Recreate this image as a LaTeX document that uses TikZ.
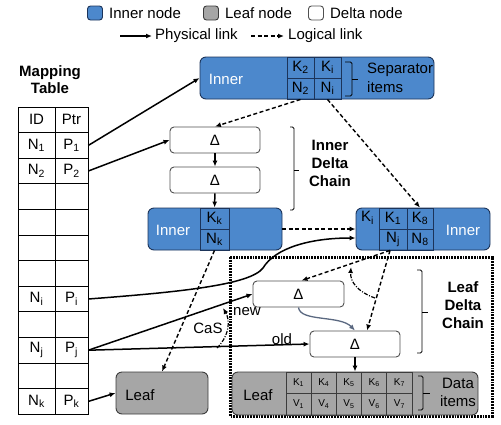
\documentclass[tikz,border=0pt]{standalone}
\usepackage{fontspec}
\setmainfont{Liberation Sans}
\usetikzlibrary{arrows.meta, positioning, calc}

\definecolor{innerblue}{RGB}{76,136,204}
\definecolor{innerline}{RGB}{28,52,90}
\definecolor{leafgray}{RGB}{166,166,166}
\definecolor{leafline}{RGB}{60,60,60}
\definecolor{deltaline}{RGB}{80,80,80}
\definecolor{slate}{RGB}{90,104,128}

\tikzset{
  innerbox/.style={draw=innerline, fill=innerblue, line width=0.9pt, rounded corners=6pt, minimum height=42pt, inner sep=0pt},
  leafbox/.style={draw=leafline, fill=leafgray, line width=0.9pt, rounded corners=6pt, minimum height=42pt, inner sep=0pt},
  deltabox/.style={draw=deltaline, fill=white, line width=0.9pt, rounded corners=4pt, minimum width=90pt, minimum height=26pt, inner sep=0pt},
  innercell/.style={draw=innerline, line width=0.9pt, minimum height=21pt, inner sep=0pt},
  leafcell/.style={draw=leafline, line width=0.7pt, minimum width=25.2pt, minimum height=21.5pt, inner sep=0pt, font=\fontsize{10}{12}\selectfont},
  tablecell/.style={draw=black, line width=0.7pt, minimum height=25.6pt, inner sep=0pt},
  txt/.style={inner sep=0pt},
  phys/.style={-{Latex[length=6pt,width=5pt]}, line width=1.5pt},
  logic/.style={-{Latex[length=6pt,width=5pt]}, line width=1.4pt, dash pattern=on 4pt off 2.5pt},
  dashdot/.style={-{Latex[length=6pt,width=5pt]}, line width=1.2pt, dash pattern=on 4pt off 1.5pt on 1pt off 1.5pt},
  bracket/.style={line width=0.9pt, rounded corners=1.5pt},
  chainbox/.style={line width=3pt, dash pattern=on 1.8pt off 1pt},
}

\begin{document}
\begin{tikzpicture}[x=1pt, y=-1pt, font=\fontsize{15}{18}\selectfont]
  \useasboundingbox (0,0) rectangle (501,424);

  % Legend
  \node[innerbox, minimum width=15pt, minimum height=14pt, rounded corners=3pt] (lginner) at (95,13) {};
  \node[txt, right=6pt of lginner] {Inner node};
  \node[leafbox, minimum width=15pt, minimum height=14pt, rounded corners=3pt] (lgleaf) at (211,13) {};
  \node[txt, right=6pt of lgleaf] {Leaf node};
  \node[deltabox, minimum width=15pt, minimum height=14pt, rounded corners=3pt] (lgdelta) at (316,13) {};
  \node[txt, right=6pt of lgdelta] {Delta node};
  \coordinate (physA) at (120,36);
  \coordinate (physB) at (152,36);
  \draw[phys] (physA) -- (physB);
  \node[txt, anchor=west] at (155,36) {Physical link};
  \coordinate (logicA) at (251,36);
  \coordinate (logicB) at (284,36);
  \draw[logic] (logicA) -- (logicB);
  \node[txt, anchor=west] at (288,36) {Logical link};

  % Mapping table
  \node[txt, align=center, font=\fontsize{15}{17}\selectfont\bfseries] (maptitle) at (50,80) {Mapping\\Table};
  \foreach \r/\a/\b in {0/ID/Ptr, 1/N\textsubscript{1}/P\textsubscript{1}, 2/N\textsubscript{2}/P\textsubscript{2},
      3//, 4//, 5//, 6//, 7/N\textsubscript{i}/P\textsubscript{i}, 8//,
      9/N\textsubscript{j}/P\textsubscript{j}, 10//, 11/N\textsubscript{k}/P\textsubscript{k}}
  {
    \node[tablecell, minimum width=37pt] (id\r) at (36.5,{107+25.6*(\r+0.5)}) {\a};
    \node[tablecell, minimum width=33pt] (ptr\r) at (71.5,{107+25.6*(\r+0.5)}) {\b};
  }

  % Leaf delta chain frame
  \draw[chainbox] (230,257) rectangle (492,416);

  % Top inner node
  \node[innerbox, minimum width=234pt] (top) at (317,78) {};
  \node[txt, text=white] at (226,79) {Inner};
  \node[innercell, minimum width=27pt] (topK2) at (300.5,67.5) {K\textsubscript{2}};
  \node[innercell, minimum width=27pt] (topKi) at (327.5,67.5) {K\textsubscript{i}};
  \node[innercell, minimum width=27pt] (topN2) at (300.5,88.5) {N\textsubscript{2}};
  \node[innercell, minimum width=27pt] (topNi) at (327.5,88.5) {N\textsubscript{i}};
  \draw[bracket] (345,62) -- (352,62) -- (352,96) -- (345,96);
  \draw[bracket] (352,79) -- (358,79);
  \node[txt, align=left, anchor=west, font=\fontsize{15}{19}\selectfont] at (367,78) {Separator\\items};

  % Inner delta chain
  \node[deltabox] (idelta1) at (215,140) {Δ};
  \node[deltabox] (idelta2) at (215,180) {Δ};
  \draw[bracket] (290,127) -- (294,127) -- (294,210) -- (290,210);
  \draw[bracket] (294,170) -- (299,170);
  \node[txt, align=center, font=\fontsize{15}{18}\selectfont\bfseries] at (330,163) {Inner\\Delta\\Chain};

  % Middle inner nodes
  \node[innerbox, minimum width=134pt] (midinner) at (215,229) {};
  \node[txt, text=white] at (173,230) {Inner};
  \node[innercell, minimum width=29pt] (midKk) at (214.5,218.5) {K\textsubscript{k}};
  \node[innercell, minimum width=29pt] (midNk) at (214.5,239.5) {N\textsubscript{k}};

  \node[innerbox, minimum width=134pt] (rightinner) at (423,229) {};
  \node[txt, text=white] at (463,230) {Inner};
  \node[txt] (rKi) at (367.5,218) {K\textsubscript{i}};
  \node[innercell, minimum width=28pt] (rK1) at (393,218.5) {K\textsubscript{1}};
  \node[innercell, minimum width=28pt] (rNj) at (393,239.5) {N\textsubscript{j}};
  \node[innercell, minimum width=26pt] (rK8) at (420,218.5) {K\textsubscript{8}};
  \node[innercell, minimum width=26pt] (rN8) at (420,239.5) {N\textsubscript{8}};

  % Leaf delta chain
  \node[deltabox, minimum width=91pt] (newdelta) at (298.5,294) {Δ};
  \node[deltabox] (olddelta) at (355,344) {Δ};
  \draw[bracket] (417,270) -- (422,270) -- (422,353) -- (417,353);
  \draw[bracket] (422,312) -- (428,312);
  \node[txt, align=center, font=\fontsize{15}{18}\selectfont\bfseries] at (463,305) {Leaf\\Delta\\Chain};

  % Leaf nodes
  \node[leafbox, minimum width=92pt] (leafL) at (162,393) {};
  \node[txt] at (140,395) {Leaf};
  \node[leafbox, minimum width=246pt, minimum height=43pt] (leafR) at (355,393.5) {};
  \node[txt] at (258,395) {Leaf};
  \foreach \k [count=\c from 0] in {1,4,5,6,7}
  {
    \node[leafcell] (K\k) at ({298.6+25.2*\c},382.75) {K\textsubscript{\k}};
    \node[leafcell] (V\k) at ({298.6+25.2*\c},404.25) {V\textsubscript{\k}};
  }
  \draw[bracket] (418,376) -- (423,376) -- (423,410) -- (418,410);
  \draw[bracket] (423,393) -- (430,393);
  \node[txt, align=center, font=\fontsize{15}{18}\selectfont] at (458,392) {Data\\items};

  % Physical links
  \draw[phys] (ptr1.east) -- (top.west);
  \draw[phys] (ptr2.east) -- (idelta1.west);
  \draw[phys] (idelta1) -- (idelta2);
  \draw[phys] (idelta2) -- (midKk);
  \draw[phys] (ptr7.east) .. controls (180,292) and (250,285) .. (263,268)
                          .. controls (275,248) and (310,238) .. ($(rightinner.west)+(0,9)$);
  \draw[phys] (ptr9.east) -- (newdelta.west);
  \draw[phys] (ptr9.east) -- (olddelta.west);
  \draw[phys] (olddelta) -- (leafR);
  \draw[phys] (ptr11.east) -- (leafL.west);
  \draw[-{Latex[length=6pt,width=5pt]}, line width=1.3pt, slate] (newdelta.south)
      .. controls (300,322) and (340,315) .. (olddelta.north);

  % Logical links
  \draw[logic] (topN2.south) -- (idelta1.north);
  \draw[logic] (topNi.south) -- (rK8.north);
  \draw[logic] (midinner.east) -- (rightinner.west);
  \draw[logic] (midNk.south) -- (leafL.north);
  \draw[logic] ($(rNj.south)+(-3,0)$) -- ($(newdelta.north)+(3,0)$);
  \draw[logic] ($(rNj.south)+(-3,0)$) -- ($(olddelta.north)+(12,0)$);

  % CaS
  \coordinate (casA) at (217,348);
  \coordinate (casB) at (223,308);
  \draw[dashdot] (casA) .. controls (230,335) and (230,320) .. (casB);
  \coordinate (arcA) at (375,298);
  \coordinate (arcB) at (351,267);
  \draw[dashdot] (arcA) .. controls (358,292) and (350,282) .. (arcB);

  % Labels
  \node[txt] at (247,312) {new};
  \node[txt] at (208,328) {CaS};
  \node[txt] at (282,339) {old};
\end{tikzpicture}
\end{document}
